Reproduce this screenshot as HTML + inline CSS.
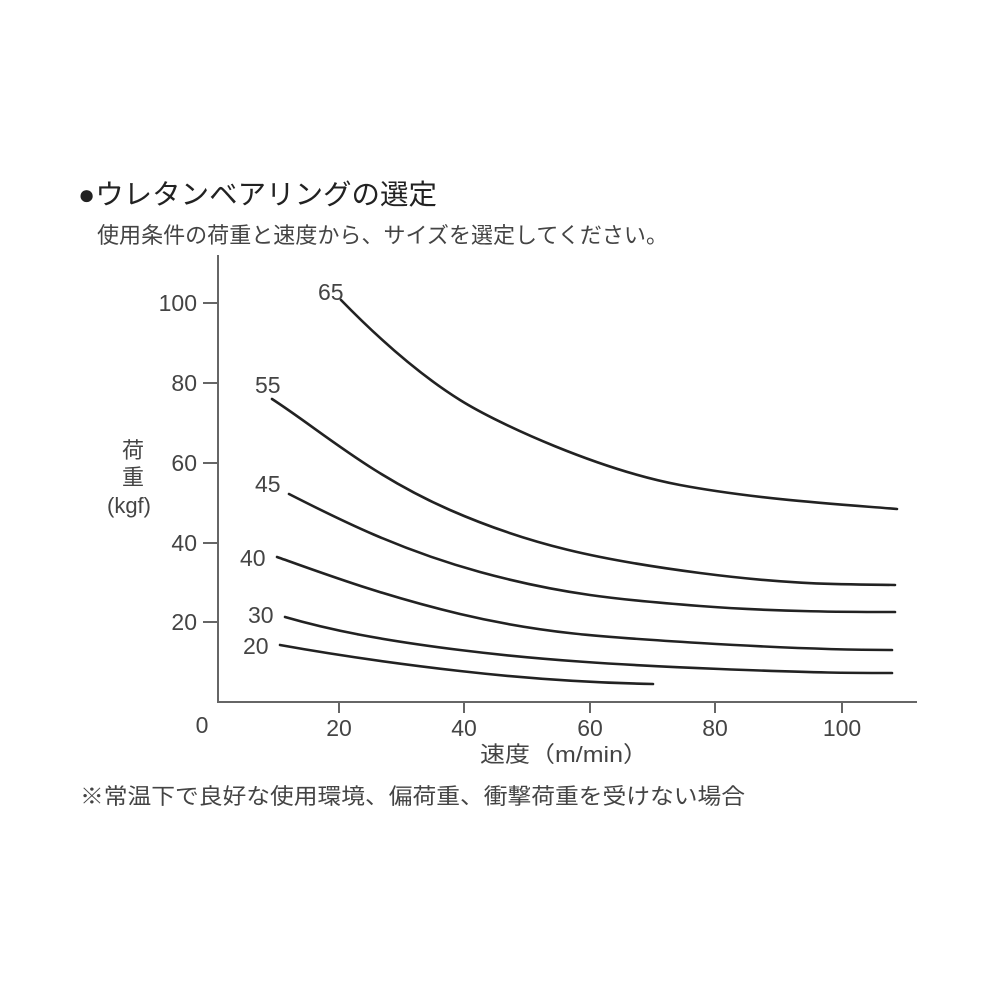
<!DOCTYPE html>
<html><head><meta charset="utf-8"><style>
body{margin:0;background:#fff;width:1000px;height:1000px;overflow:hidden}
svg{display:block}
text{font-family:"Liberation Sans","Noto Sans CJK JP",sans-serif;fill:#444}
</style></head><body>
<svg width="1000" height="1000" viewBox="0 0 1000 1000">
<text x="78" y="204" font-size="28" style="fill:#222" textLength="359" lengthAdjust="spacingAndGlyphs">●ウレタンベアリングの選定</text>
<text x="97" y="243" font-size="22" textLength="571" lengthAdjust="spacingAndGlyphs">使用条件の荷重と速度から、サイズを選定してください。</text>
<g stroke="#666" stroke-width="2" fill="none">
<polyline points="218,255 218,702 917,702"/>
<line x1="203" y1="303" x2="218" y2="303"/><line x1="203" y1="383" x2="218" y2="383"/>
<line x1="203" y1="463" x2="218" y2="463"/><line x1="203" y1="543" x2="218" y2="543"/>
<line x1="203" y1="622" x2="218" y2="622"/>
<line x1="339" y1="702" x2="339" y2="713"/><line x1="464" y1="702" x2="464" y2="713"/>
<line x1="590" y1="702" x2="590" y2="713"/><line x1="715" y1="702" x2="715" y2="713"/>
<line x1="842" y1="702" x2="842" y2="713"/>
</g>
<g font-size="23" text-anchor="end">
<text x="197" y="311">100</text><text x="197" y="391">80</text><text x="197" y="471">60</text>
<text x="197" y="551">40</text><text x="197" y="630">20</text>
</g>
<g font-size="23" text-anchor="middle">
<text x="202" y="733">0</text><text x="339" y="736">20</text><text x="464" y="736">40</text>
<text x="590" y="736">60</text><text x="715" y="736">80</text><text x="842" y="736">100</text>
</g>
<text x="133" y="458" font-size="22" text-anchor="middle">荷</text>
<text x="133" y="485" font-size="22" text-anchor="middle">重</text>
<text x="129" y="513" font-size="22" text-anchor="middle">(kgf)</text>
<text x="480" y="762" font-size="22" textLength="168" lengthAdjust="spacingAndGlyphs">速度（m/min）</text>
<text x="80" y="804" font-size="22" textLength="665" lengthAdjust="spacingAndGlyphs">※常温下で良好な使用環境、偏荷重、衝撃荷重を受けない場合</text>
<g font-size="23">
<text x="318" y="300">65</text><text x="255" y="393">55</text><text x="255" y="492">45</text>
<text x="240" y="566">40</text><text x="248" y="623">30</text><text x="243" y="654">20</text>
</g>
<g stroke="#222" stroke-width="2.6" fill="none" stroke-linejoin="round" stroke-linecap="round">
<path d="M341,300 C380,340 420,375 460,400 S600,470 680,485 S850,505 897,509"/>
<path d="M272,399 C320,430 370,475 450,510 S600,560 700,573 S850,584 895,585"/>
<path d="M289,494 C340,520 400,550 480,572 S620,600 700,606 S850,612 895,612"/>
<path d="M277,557 C320,572 380,595 460,614 S600,637 700,643 S850,650 892,650"/>
<path d="M285,617 C330,630 380,640 460,650 S620,665 720,669 S850,673 892,673"/>
<path d="M280,645 C330,654 390,663 460,671 S600,683 653,684"/>
</g>
</svg>
</body></html>
